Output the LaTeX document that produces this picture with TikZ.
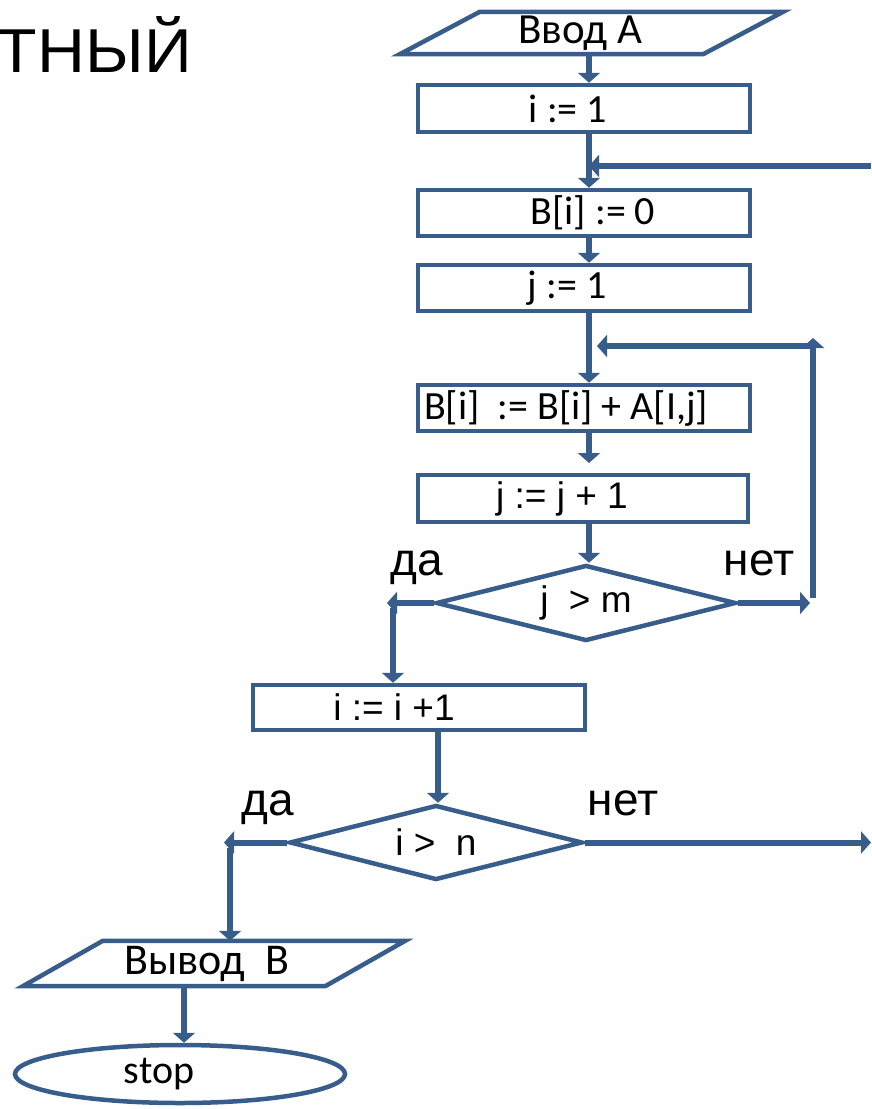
\documentclass[tikz,border=0pt]{standalone}
\usepackage{fontspec}
\usepackage{graphicx}
\usetikzlibrary{arrows.meta,shapes.geometric,calc}
\newfontfamily\calfont{Carlito}
\newfontfamily\arifont{Liberation Sans}
\definecolor{ln}{RGB}{56,93,138}
\newcommand\mv[2]{\hspace*{#1pt}#2\hspace*{-#1pt}}
\begin{document}
\begin{tikzpicture}[x=1pt,y=-1pt,
  box/.style={draw=ln, line width=4.5pt, minimum width=332pt, minimum height=46pt, inner sep=0pt,
              font=\calfont\fontsize{40}{44}\selectfont},
  arialbox/.style={font=\arifont\fontsize{37}{40}\selectfont},
  dia/.style={diamond, draw=ln, line width=4.5pt, inner sep=0pt, aspect=4},
  diatext/.style={font=\arifont\fontsize{37}{40}\selectfont, inner sep=0pt},
  io/.style={inner sep=0pt, font=\calfont\fontsize{43}{46}\selectfont},
  para/.style={draw=ln, line width=4.5pt, line join=miter},
  yn/.style={font=\arifont\fontsize{46}{50}\selectfont, inner sep=0pt, anchor=base},
  conn/.style={draw=ln, line width=6pt},
  arr/.style={conn, -{Triangle[width=22pt,length=10pt]}},
]
\useasboundingbox (0,0) rectangle (871,1109);

% title fragment
\node[font=\arifont\fontsize{62}{62}\selectfont, anchor=base east, inner sep=0pt] (title) at (192,72) {\scalebox{1.07}[1]{ТНЫЙ}};

% nodes
\node[io, minimum width=383pt, minimum height=42pt] (inA) at (591.5,33) {\mv{-11}{Ввод А}};
\draw[para] (inA.south west) -- ([xshift=-80pt]inA.south east) -- (inA.north east) -- ([xshift=80pt]inA.north west) -- cycle;

\node[box, minimum height=47pt] (i1) at (584,108.5) {\mv{-16}{i := 1}};
\node[box] (b0) at (584,213) {\mv{9}{B[i] := 0}};
\node[box] (j1) at (584,288) {\mv{-17}{j := 1}};
\node[box] (bs) at (584,408) {\mv{-18}{B[i]\ \ := B[i] + A[I,j]}};
\node[box, arialbox, minimum width=330pt, minimum height=47pt] (jinc) at (583,498.5) {\mv{-21}{j := j + 1}};
\node[dia, minimum width=300pt, minimum height=76pt, label={[diatext]center:j\hspace{0.55em}> m}] (djm) at (586,603) {};
\node[box, arialbox, minimum height=45pt] (iinc) at (419,707.5) {\mv{-25}{i := i +1}};
\node[dia, minimum width=293pt, minimum height=75pt, label={[diatext]center:i >\hspace{0.55em}n}] (din) at (436,842.5) {};

\node[io, minimum width=382pt, minimum height=45pt, font=\calfont\fontsize{44}{46}\selectfont] (outB) at (214,963.5) {\mv{-7}{Вывод\ \ В}};
\draw[para] (outB.south west) -- ([xshift=-80pt]outB.south east) -- (outB.north east) -- ([xshift=80pt]outB.north west) -- cycle;

\node[ellipse, draw=ln, line width=4.5pt, minimum width=330pt, minimum height=58pt, inner sep=0pt,
      font=\calfont\fontsize{40}{44}\selectfont] (stop) at (180,1074) {\mv{-21}{stop}};

% labels
\node[yn] (da1) at (417,575) {да};
\node[yn] (net1) at (759,575) {нет};
\node[yn] (da2) at (268,815) {да};
\node[yn] (net2) at (623,815) {нет};

% coordinates
\coordinate (cA) at (589,0);
\coordinate (cB) at (438,0);
\coordinate (cC) at (184,0);
\coordinate (fb) at (871,166);
\coordinate (lpT) at (813,346);
\coordinate (lpB) at (813,603);
\coordinate (bsE) at (589,463);
\coordinate (yl1) at (387,603);
\coordinate (yl1b) at (393,608);
\coordinate (no2) at (871,842.5);
\coordinate (yl2) at (224,842.5);
\coordinate (yl2b) at (230,848);

% connectors
\draw[arr] (inA.south -| cA) -- (i1.north -| cA);
\draw[arr] (i1.south -| cA) -- (b0.north -| cA);
\draw[arr] (fb) -- (fb -| cA);
\draw[arr] (b0.south -| cA) -- (j1.north -| cA);
\draw[arr] (j1.south -| cA) -- (bs.north -| cA);
\draw[arr] (lpT) -- ($(lpT -| cA)+(8,0)$);
\draw[arr] (bs.south -| cA) -- (bsE);
\draw[arr] (jinc.south -| cA) -- (djm.north -| cA);
\draw[arr] (djm.east) -- ([xshift=-3pt]lpB);
\draw[arr] ([yshift=5pt]lpB) -- ([yshift=8pt]lpT);
\draw[arr] (djm.west) -- (yl1);
\draw[arr] (yl1b) -- (yl1b |- iinc.north);
\draw[arr] (iinc.south -| cB) -- (din.north -| cB);
\draw[arr] (din.east) -- (no2);
\draw[arr] (din.west) -- (yl2);
\draw[arr] (yl2b) -- (yl2b |- outB.north);
\draw[arr] (outB.south -| cC) -- (stop.north -| cC);
\end{tikzpicture}
\end{document}
